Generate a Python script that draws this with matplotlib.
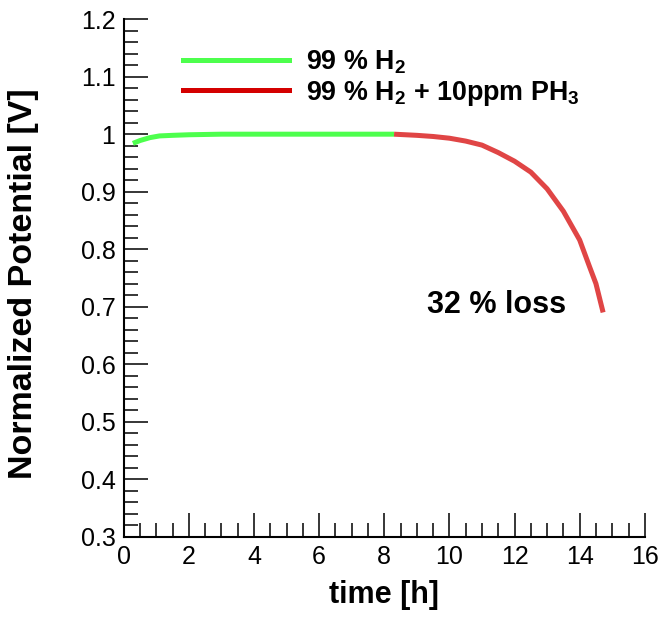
import numpy as np
import matplotlib.pyplot as plt
from matplotlib.lines import Line2D
from matplotlib.ticker import MultipleLocator, FormatStrFormatter

# ==========================================
# DATA
# ==========================================

t_h2 = [0.28, 0.5, 0.8, 1.1, 1.5, 2.0, 3.0, 4.0, 5.0, 6.0, 7.0, 8.3]
v_h2 = [0.984, 0.989, 0.994, 0.997, 0.998, 0.999, 1.0, 1.0, 1.0, 1.0, 1.0, 1.0]

t_ph3 = [8.3, 9.0, 9.5, 10.0, 10.5, 11.0, 11.5, 12.0, 12.5,
         13.0, 13.5, 14.0, 14.3, 14.5, 14.72]
v_ph3 = [1.0, 0.998, 0.996, 0.993, 0.988, 0.981, 0.968, 0.953, 0.934,
         0.905, 0.866, 0.816, 0.770, 0.740, 0.690]

labels = ["99 % H$_2$", "99 % H$_2$ + 10ppm PH$_3$"]
note = "32 % loss"

# ==========================================
# STYLE
# ==========================================

plt.rcParams["font.family"] = ["Liberation Sans", "DejaVu Sans"]
plt.rcParams["mathtext.fontset"] = "custom"
plt.rcParams["mathtext.rm"] = "Liberation Sans:bold"
plt.rcParams["mathtext.it"] = "Liberation Sans:bold"
plt.rcParams["mathtext.bf"] = "Liberation Sans:bold"

green = "#4dff4d"
red_line = "#e04545"
red_legend = "#d40000"

fig = plt.figure(figsize=(6.62, 6.19), dpi=100)
ax = fig.add_axes([0.187, 0.133, 0.787, 0.836])

ax.plot(t_h2, v_h2, color=green, lw=3.6, solid_capstyle="butt",
        solid_joinstyle="round")
ax.plot(t_ph3, v_ph3, color=red_line, lw=3.6, solid_capstyle="butt",
        solid_joinstyle="round")

ax.set_xlim(0, 16)
ax.set_ylim(0.3, 1.2)

ax.xaxis.set_major_locator(MultipleLocator(2))
ax.xaxis.set_minor_locator(MultipleLocator(0.5))
ax.yaxis.set_major_locator(MultipleLocator(0.1))
ax.yaxis.set_minor_locator(MultipleLocator(0.02))
ax.yaxis.set_major_formatter(FormatStrFormatter("%g"))

for side in ["top", "right"]:
    ax.spines[side].set_visible(False)
for side in ["left", "bottom"]:
    ax.spines[side].set_linewidth(1.5)

ax.tick_params(which="major", direction="in", length=17, width=1.1,
               labelsize=18, pad=6)
ax.tick_params(which="minor", direction="in", length=10, width=1.1)

ax.set_xlabel("time [h]", fontsize=22, fontweight="bold", labelpad=8)
ax.set_ylabel("Normalized Potential [V]", fontsize=24.5, fontweight="bold")
ax.yaxis.set_label_coords(-0.162, 0.488)

ax.text(11.44, 0.703, note, fontsize=22, fontweight="bold",
        ha="center", va="center")

handles = [
    Line2D([], [], color=green, lw=3.6),
    Line2D([], [], color=red_legend, lw=3.6),
]
ax.legend(handles, labels, loc="upper left", bbox_to_anchor=(0.067, 0.99),
          frameon=False, handlelength=3.95, handletextpad=0.63,
          labelspacing=0.1, prop={"weight": "bold", "size": 19.4})

fig.savefig("out.png", dpi=100)
